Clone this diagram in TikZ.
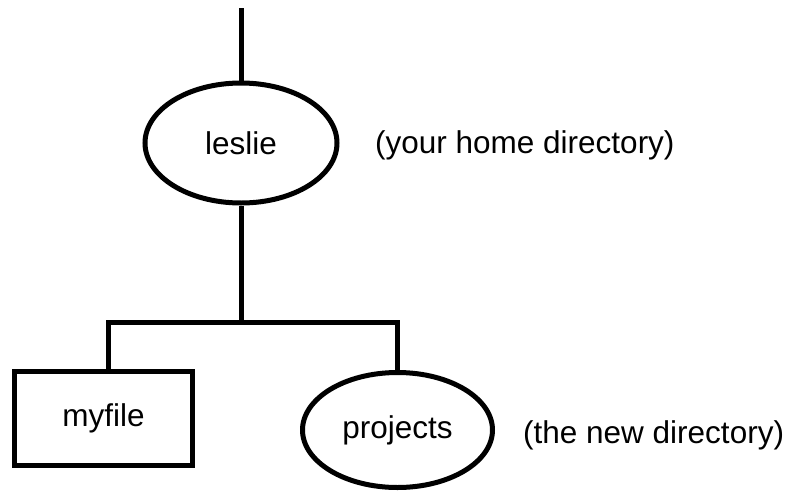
\documentclass[tikz,border=0pt]{standalone}
\usepackage{fontspec}
\setmainfont{Liberation Sans}
\usetikzlibrary{positioning,shapes.geometric}

\begin{document}
\begin{tikzpicture}[
  x=1pt,y=-1pt,
  dirnode/.style={draw,ellipse,line width=5pt,inner sep=0pt,font=\fontsize{31.5}{36}\selectfont},
  filenode/.style={draw,rectangle,line width=5pt,inner sep=0pt,font=\fontsize{31.5}{36}\selectfont},
  note/.style={font=\fontsize{31.5}{36}\selectfont,anchor=west,inner sep=0pt},
  link/.style={line width=5pt},
]
\useasboundingbox (0,0) rectangle (790,493);
\node[dirnode,minimum width=192pt,minimum height=120pt] (leslie) at (241,143) {leslie};
\node[filenode,minimum width=178pt,minimum height=94pt] (myfile) at (103.5,418.5) {myfile};
\node[dirnode,minimum width=190pt,minimum height=115pt] (projects) at (397.5,430) {projects};
\node[note] (homenote) at (375,145) {(your home directory)};
\node[note] (newnote) at (523,435) {(the new directory)};
\coordinate (top) at (241,8);
\coordinate (fork) at (241,322);
% tree connectors
\draw[link] (top) -- (leslie.north);
\draw[link] (leslie.south) -- (fork);
\draw[link] ([xshift=4.5pt]myfile.north) |- (fork) -| (projects.north);
\end{tikzpicture}
\end{document}
